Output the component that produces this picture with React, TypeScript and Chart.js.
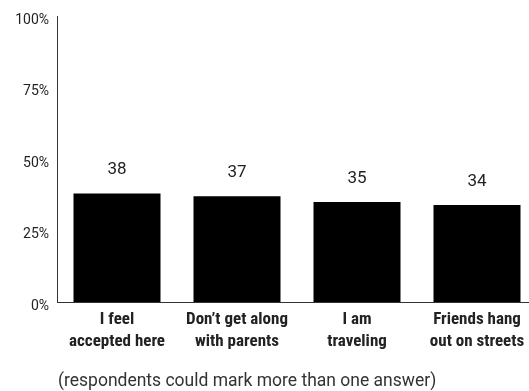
import React, { useEffect, useRef } from "react";
import { Chart, registerables } from "chart.js";

Chart.register(...registerables);

const categories: string[][] = [
  ["I feel", "accepted here"],
  ["Don\u2019t get along", "with parents"],
  ["I am", "traveling"],
  ["Friends hang", "out on streets"],
];
const values: number[] = [38, 37, 35, 34];
const yTickValues: number[] = [0, 25, 50, 75, 100];
const yTickLabels: string[] = ["0%", "25%", "50%", "75%", "100%"];
const footnote = "(respondents could mark more than one answer)";

const CANVAS_W = 537;
const CANVAS_H = 391;
const AXIS_LEFT = 57;
const AXIS_BOTTOM = 302;

const valueLabels = {
  id: "valueLabels",
  afterDatasetsDraw(chart: any) {
    const { ctx } = chart;
    const meta = chart.getDatasetMeta(0);
    ctx.save();
    ctx.font = "17px Roboto";
    ctx.fillStyle = "#222";
    ctx.textAlign = "center";
    ctx.textBaseline = "alphabetic";
    meta.data.forEach((el: any, i: number) => {
      ctx.fillText(String(values[i]), el.x, el.y - 19);
    });
    ctx.restore();
  },
};

export default function App() {
  const ref = useRef<HTMLCanvasElement | null>(null);

  useEffect(() => {
    if (!ref.current) return;
    const chart = new Chart(ref.current, {
      type: "bar",
      data: {
        labels: categories,
        datasets: [
          {
            data: values,
            backgroundColor: "#000000",
            borderWidth: 0,
            barPercentage: 0.725,
            categoryPercentage: 1,
          },
        ],
      },
      options: {
        responsive: false,
        animation: false,
        devicePixelRatio: 1,
        layout: { padding: { top: 15, left: 0, right: 0, bottom: 0 } },
        plugins: {
          legend: { display: false },
          tooltip: { enabled: false },
          title: { display: false },
        },
        scales: {
          x: {
            type: "category",
            offset: true,
            grid: { display: false, drawTicks: false },
            border: { display: true, color: "#333", width: 1 },
            afterFit: (s: any) => {
              s.height = CANVAS_H - AXIS_BOTTOM;
            },
            ticks: {
              autoSkip: false,
              maxRotation: 0,
              minRotation: 0,
              padding: 7,
              color: "#222",
              font: {
                family: "'Liberation Sans Narrow', 'Roboto Condensed', 'DejaVu Sans Condensed', sans-serif",
                size: 17,
                weight: "bold",
                lineHeight: 1.3,
              },
            },
          },
          y: {
            type: "linear",
            min: 0,
            max: 100,
            grid: { display: false, drawTicks: false },
            border: { display: true, color: "#333", width: 1 },
            afterFit: (s: any) => {
              s.width = AXIS_LEFT;
            },
            afterBuildTicks: (s: any) => {
              s.ticks = yTickValues.map((v) => ({ value: v }));
            },
            ticks: {
              padding: 8,
              labelOffset: 4,
              color: "#222",
              font: { family: "Roboto", size: 14 },
              callback: (v: any) => yTickLabels[yTickValues.indexOf(Number(v))] ?? "",
            },
          },
        },
      },
      plugins: [valueLabels],
    });
    return () => chart.destroy();
  }, []);

  return (
    <div
      style={{
        position: "fixed",
        left: 0,
        top: 0,
        width: 529,
        height: 391,
        overflow: "hidden",
        background: "#fff",
      }}
    >
      <canvas
        ref={ref}
        width={CANVAS_W}
        height={CANVAS_H}
        style={{ position: "absolute", left: 0, top: 0, width: CANVAS_W, height: CANVAS_H }}
      />
      <div
        style={{
          position: "absolute",
          left: 58,
          top: 372,
          fontFamily: "Roboto",
          fontSize: 17.5,
          lineHeight: 1,
          color: "#333",
          whiteSpace: "nowrap",
        }}
      >
        {footnote}
      </div>
    </div>
  );
}
